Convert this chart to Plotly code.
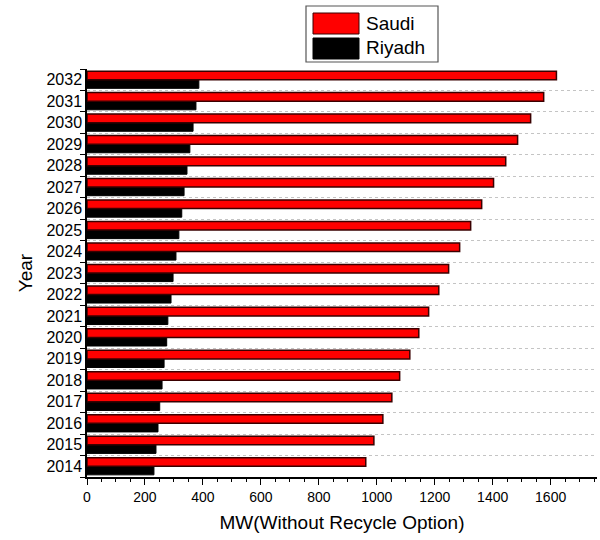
import plotly.graph_objects as go

years = [str(y) for y in range(2014, 2033)]
saudi = [962, 990, 1021, 1052, 1079, 1114, 1145, 1179, 1214, 1248,
         1286, 1324, 1362, 1403, 1445, 1486, 1531, 1576, 1620]
riyadh = [231, 238, 245, 251, 259, 266, 275, 279, 290, 297,
          307, 317, 327, 335, 345, 355, 366, 376, 386]

FONT = "Arial, Liberation Sans, sans-serif"

fig = go.Figure()
# Riyadh first so it sits below Saudi within each year band
fig.add_trace(go.Bar(y=years, x=riyadh, name="Riyadh", orientation="h",
                     marker=dict(color="black", line=dict(color="black", width=1))))
fig.add_trace(go.Bar(y=years, x=saudi, name="Saudi", orientation="h",
                     marker=dict(color="#ff0000", line=dict(color="#3a0000", width=1.5))))

fig.update_layout(
    width=600, height=540,
    margin=dict(l=87, r=3, t=69, b=63),
    paper_bgcolor="white", plot_bgcolor="white",
    barmode="group", bargap=0.2, bargroupgap=0.0,
    showlegend=False,
    font=dict(family=FONT, color="black", size=14),
)

fig.update_xaxes(
    range=[0, 1760], dtick=200, tick0=0,
    showline=True, linecolor="black", linewidth=1.5,
    ticks="outside", ticklen=6, tickwidth=1.2, tickcolor="black",
    minor=dict(dtick=50, ticks="outside", ticklen=3, tickcolor="black", showgrid=False),
    showgrid=False, zeroline=False,
    tickfont=dict(size=14, family=FONT),
    title=dict(text="MW(Without Recycle Option)", font=dict(size=19, family=FONT), standoff=12),
)

fig.update_yaxes(
    type="category", categoryorder="array", categoryarray=years,
    tickson="boundaries",
    showline=True, linecolor="black", linewidth=1.5,
    ticks="outside", ticklen=5, tickwidth=1.2, tickcolor="black",
    showgrid=True, gridcolor="#c4c4c4", griddash="dot", gridwidth=1,
    tickfont=dict(size=16, family=FONT),
    title=dict(text="Year", font=dict(size=19, family=FONT), standoff=9),
)

# Legend box drawn in paper pixels
W, H = 600, 540
ml, mr, mt, mb = 87, 3, 69, 63
pw, ph = W - ml - mr, H - mt - mb

def px(x):
    return (x - ml) / pw

def py(y):
    return 1 - (y - mt) / ph

shapes = [
    dict(type="rect", xref="paper", yref="paper",
         x0=px(306), x1=px(438), y0=py(6), y1=py(62),
         line=dict(color="#555555", width=1.2), fillcolor="white"),
    dict(type="rect", xref="paper", yref="paper",
         x0=px(313), x1=px(359), y0=py(13), y1=py(34),
         line=dict(color="#3a0000", width=1), fillcolor="#ff0000"),
    dict(type="rect", xref="paper", yref="paper",
         x0=px(313), x1=px(359), y0=py(38), y1=py(59),
         line=dict(color="black", width=1), fillcolor="black"),
]
annotations = [
    dict(text="Saudi", xref="paper", yref="paper", x=px(364), y=py(24),
         xanchor="left", yanchor="middle", showarrow=False,
         font=dict(size=19, family=FONT, color="black")),
    dict(text="Riyadh", xref="paper", yref="paper", x=px(364), y=py(48),
         xanchor="left", yanchor="middle", showarrow=False,
         font=dict(size=19, family=FONT, color="black")),
]
fig.update_layout(shapes=shapes, annotations=annotations)

fig.write_html("out.html")
